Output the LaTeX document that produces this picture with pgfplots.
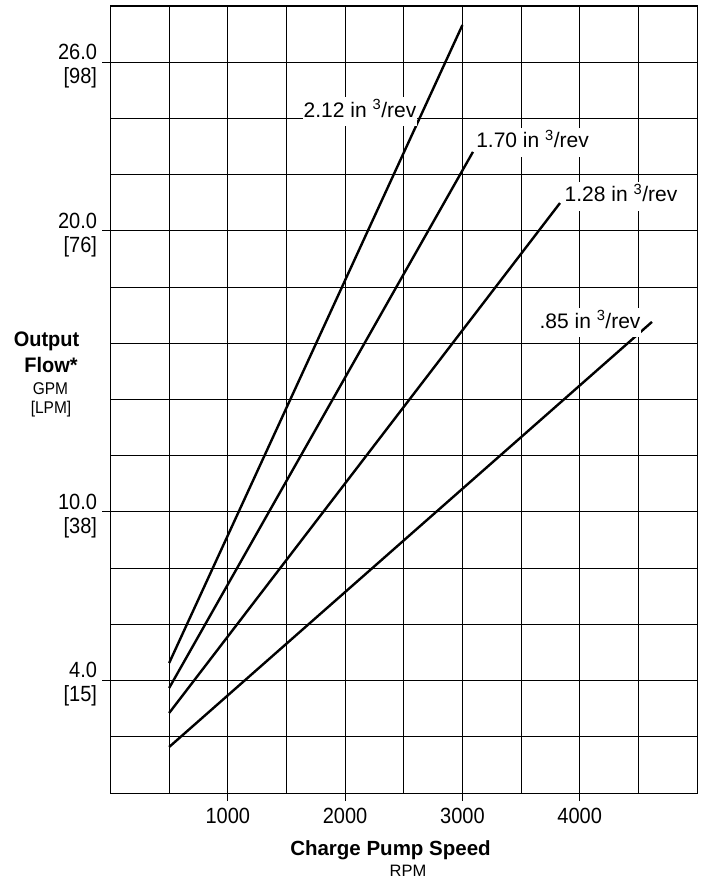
\documentclass[border=0pt]{standalone}
\usepackage{fontspec}
\setmainfont{Liberation Sans}
\newfontfamily\condfont{Liberation Sans}[FakeStretch=0.91]
\newfontfamily\semicondfont{Liberation Sans}[FakeStretch=0.95]
\usepackage{pgfplots}
\pgfplotsset{compat=1.18}
\begin{document}
\begin{tikzpicture}
\path[use as bounding box] (-110.5bp,-87bp) rectangle (591.5bp,793bp);
\begin{axis}[
  at={(0,0)}, anchor=south west,
  scale only axis, width=586.5bp, height=787bp,
  xmin=0, xmax=5000, ymin=0, ymax=28,
  xtick={1000,2000,3000,4000},
  xticklabels={1000,2000,3000,4000},
  minor xtick={0,500,...,5000},
  ytick={4,10,20,26},
  yticklabels={{4.0\\{[15]}},{10.0\\{[38]}},{20.0\\{[76]}},{26.0\\{[98]}}},
  minor ytick={0,2,...,28},
  grid=both,
  major grid style={black, line width=0.9bp},
  minor grid style={black, line width=0.9bp},
  axis line style={black, line width=1bp},
  tick align=outside,
  major tick length=8bp, minor tick length=0pt,
  tick style={black, line width=0.9bp},
  xtick pos=bottom, ytick pos=left,
  ticklabel style={font=\condfont\fontsize{22bp}{24bp}\selectfont},
  yticklabel style={align=right, yshift=-4bp, xshift=-2bp},
  xticklabel style={yshift=-4bp},
  clip=false,
]
\addplot[black, line width=2.4bp] coordinates {(500,4.625) (3000,27.32)};
\addplot[black, line width=2.4bp] coordinates {(500,3.736) (3090,22.81)};
\addplot[black, line width=2.4bp] coordinates {(500,2.846) (3832,20.99)};
\addplot[black, line width=2.4bp] coordinates {(500,1.637) (4616,16.76)};
\tikzset{lab/.style={anchor=base, fill=white, inner xsep=1bp, inner ysep=2bp, font=\fontsize{21bp}{24bp}\selectfont}}
\node[lab] at (axis cs:2127,24.05) {\strut 2.12 in \textsuperscript{3}/rev};
\node[lab] at (axis cs:3598,22.95) {\strut 1.70 in \textsuperscript{3}/rev};
\node[lab] at (axis cs:4352,21.03) {\strut 1.28 in \textsuperscript{3}/rev};
\node[lab] at (axis cs:4088,16.54) {\strut .85 in \textsuperscript{3}/rev};
\end{axis}
\node[anchor=base, font=\semicondfont\fontsize{21bp}{24bp}\selectfont\bfseries] at (-64bp,446bp) {Output};
\node[anchor=base, font=\semicondfont\fontsize{21bp}{24bp}\selectfont\bfseries] at (-59.5bp,420bp) {Flow*};
\node[anchor=base, font=\condfont\fontsize{17bp}{19bp}\selectfont] at (-60bp,398bp) {GPM};
\node[anchor=base, font=\condfont\fontsize{17bp}{19bp}\selectfont] at (-59.5bp,379bp) {[LPM]};
\node[anchor=base, font=\fontsize{20.5bp}{24bp}\selectfont\bfseries] at (280bp,-62bp) {Charge Pump Speed};
\node[anchor=base, font=\fontsize{16.5bp}{19bp}\selectfont] at (297.5bp,-83.5bp) {RPM};
\end{tikzpicture}
\end{document}
